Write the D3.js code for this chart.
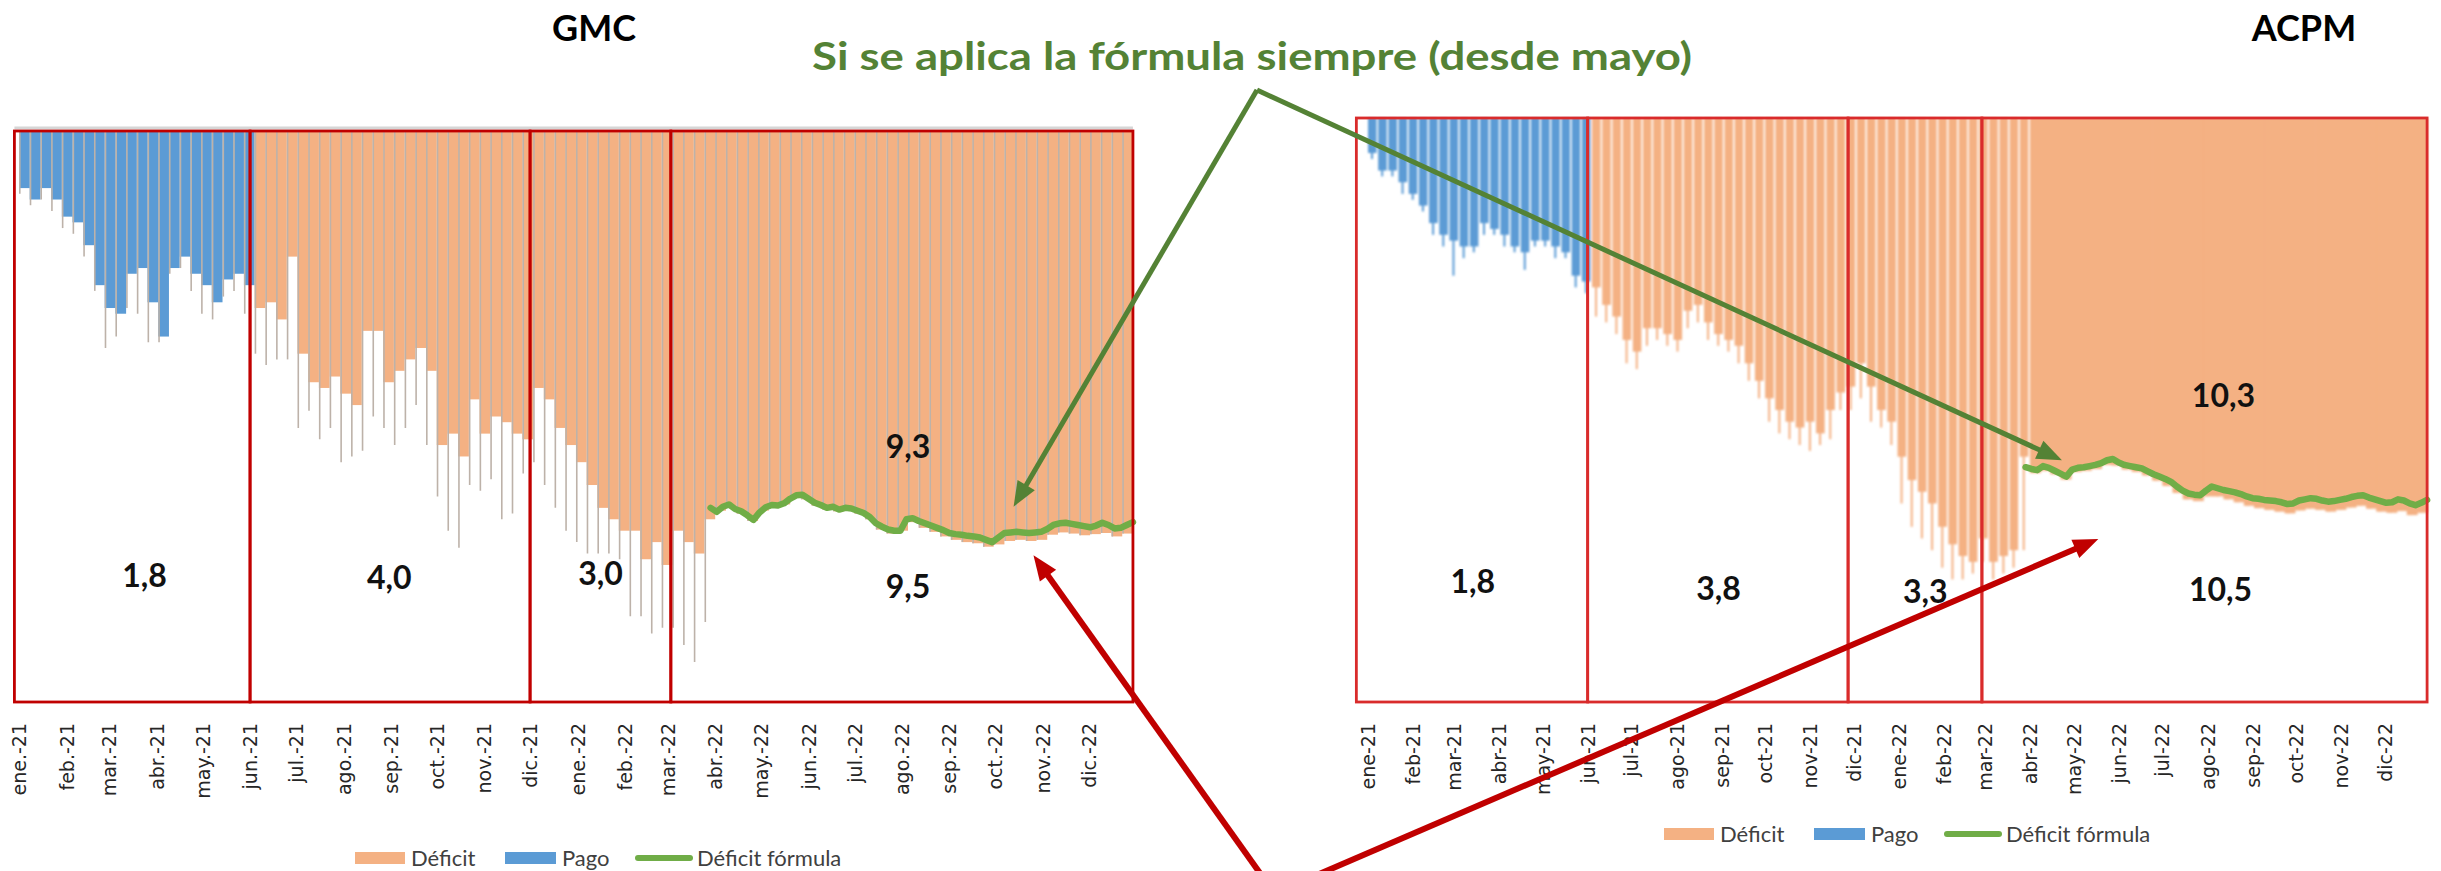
<!DOCTYPE html>
<html>
<head>
<meta charset="utf-8">
<script src="https://cdn.jsdelivr.net/npm/d3@7"></script>
<style>
	body { margin: 0; background: #fff; }
	svg { display: block; }
</style>
</head>
<body>
<svg id="chart" width="2441" height="871"></svg>
<script>

// Semanas desde el 1 de enero de 2021 (profundidad del déficit, 0 = arriba, 100 = fondo)
var pagoGMC = [10,12,10,12,15,16,20,27,31,32,25,24,30,36,24,22,25,27,30,26,25,27];
var pagoPicoGMC = [11,13,12,14,17,18,22,28,38,36,31,32,37,37,25,24,28,32,33,29,28,32];
var deficitGMC = [31,30,33,22,39,44,45,43,46,48,35,35,44,42,40,38,42,55,53,57,47,53,50,51,53,54,
	45,47,52,55,58,62,66,68,70,70,75,72,76,70,72,74,68,
	66.5,66.0,67.0,68.3,66.5,65.8,65.4,64.2,64.5,65.6,66.3,66.6,66.4,67.0,68.0,69.8,70.5,70.0,68.5,69.5,
	70.2,71.0,71.6,72.0,72.2,72.8,72.4,71.8,71.6,71.8,71.6,70.7,70.3,70.5,70.8,70.6,70.4,71.0,70.5];
var deficitPicoGMC = [39,41,40,40,52,49,54,52,58,57,56,50,52,55,52,48,55,64,70,73,62,63,61,68,67,60,
	58,62,66,70,72,74,74,74,75,85,85,88,87,87,90,93,86];

var pagoACPM = [6,9,9,11,13,15,18,20,21,22,22,18,19,20,22,23,21,21,22,23,27,28];
var pagoPicoACPM = [7,10,10,13,14,16,20,22,27,24,23,20,20,22,23,26,22,22,24,24,29,30];
var deficitACPM = [29,32,34,38,40,36,36,37,38,33,32,35,37,38,39,42,45,48,50,52,53,52,54,50,47,46,
	42,46,50,52,58,62,64,66,70,73,75,76,72,76,75,74,58,
	60.8,60.4,61.0,61.9,60.6,60.4,60.1,59.4,59.5,60.2,60.6,61.2,62.1,63.0,64.2,65.3,65.6,64.8,64.8,65.3,
	65.8,66.4,66.8,67.1,67.4,67.7,67.2,66.9,67.1,67.4,67.1,66.7,66.4,66.9,67.4,67.6,67.3,68.0,67.6];
var deficitPicoACPM = [34,35,37,42,43,39,38,39,40,36,35,38,39,40,42,45,48,52,54,55,56,57,56,55,50,50,
	48,52,53,56,66,70,72,74,77,79,79,78,76,79,78,77,74];

// Déficit fórmula: cada 4 días desde el 29 de marzo de 2022
var formulaGMC = [66.0,66.7,65.8,65.4,66.2,66.6,67.3,68.1,66.8,65.9,65.5,65.6,65.2,64.4,63.8,63.7,64.4,65.1,65.5,66.0,
	65.8,66.3,66.0,66.1,66.5,66.9,67.6,68.7,69.3,69.8,70.0,70.0,68.0,67.8,68.3,68.7,69.1,69.5,69.9,70.4,
	70.6,70.7,70.9,71.0,71.2,71.6,72.0,71.2,70.4,70.3,70.2,70.3,70.4,70.3,70.2,69.7,69.0,68.7,68.6,68.8,
	69.0,69.2,69.4,69.1,68.6,69.0,69.6,69.5,69.0,68.5];
var formulaACPM = [59.8,60.1,60.3,59.6,59.9,60.4,60.9,61.4,60.2,59.9,59.8,59.6,59.4,59.1,58.6,58.4,59.0,59.4,59.6,59.8,
	60.0,60.5,61.0,61.4,61.8,62.3,63.1,63.8,64.3,64.5,64.6,63.8,63.1,63.4,63.7,63.9,64.1,64.4,64.8,65.1,
	65.2,65.4,65.5,65.6,65.8,66.1,66.0,65.5,65.3,65.1,65.2,65.5,65.7,65.6,65.4,65.2,64.9,64.7,64.6,65.0,
	65.3,65.6,65.9,65.8,65.3,65.5,66.0,66.3,65.9,65.4];

var ticksGMC = ["ene.-21","feb.-21","mar.-21","abr.-21","may.-21","jun.-21","jul.-21","ago.-21","sep.-21","oct.-21","nov.-21","dic.-21",
	"ene.-22","feb.-22","mar.-22","abr.-22","may.-22","jun.-22","jul.-22","ago.-22","sep.-22","oct.-22","nov.-22","dic.-22"];
var ticksACPM = ["ene-21","feb-21","mar-21","abr-21","may-21","jun-21","jul-21","ago-21","sep-21","oct-21","nov-21","dic-21",
	"ene-22","feb-22","mar-22","abr-22","may-22","jun-22","jul-22","ago-22","sep-22","oct-22","nov-22","dic-22"];

// Periodos (recuadros rojos) y sus cifras
var cajasGMC = ["2020-12-29","2021-06-01","2021-12-01","2022-03-03","2022-12-30"];
var cajasACPM = ["2020-12-24","2021-06-01","2021-11-27","2022-02-27","2022-12-30"];
var cifrasGMC = ["1,8","4,0","3,0","9,3","9,5"];
var cifrasACPM = ["1,8","3,8","3,3","10,3","10,5"];

var series = ["Déficit", "Pago", "Déficit fórmula"];

var C = {def: "#f4b183", pago: "#5b9bd5", formula: "#70ad47", flechaV: "#548235", flechaR: "#c00000"};

var parse = d3.utcParse("%Y-%m-%d");
var inicio = Date.UTC(2021, 0, 1), inicioFormula = Date.UTC(2022, 2, 29), DIA = 864e5;
function semana(i) { return new Date(inicio + i * 7 * DIA); }

var svg = d3.select("#chart");
svg.append("defs").append("filter")
	.attr("id", "suave")
	.append("feGaussianBlur")
	.attr("stdDeviation", 0.9);

var paneles = [
	{titulo: "GMC", tx: 594, xr: [19, 1136], yr: [131, 702], pago: pagoGMC, pagoPico: pagoPicoGMC,
		deficit: deficitGMC, deficitPico: deficitPicoGMC, formula: formulaGMC, ticks: ticksGMC,
		cajas: cajasGMC, colorCaja: "#c00000", suave: false, cifras: cifrasGMC,
		pos: [["2021-03-24", 79.9], ["2021-08-31", 80.2], ["2022-01-16", 79.5], ["2022-08-05", 57.3], ["2022-08-05", 81.8]],
		leyenda: [355, 858]},
	{titulo: "ACPM", tx: 2304, xr: [1368, 2430], yr: [118, 702], pago: pagoACPM, pagoPico: pagoPicoACPM,
		deficit: deficitACPM, deficitPico: deficitPicoACPM, formula: formulaACPM, ticks: ticksACPM,
		cajas: cajasACPM, colorCaja: "#d92b2b", suave: true, cifras: cifrasACPM,
		pos: [["2021-03-14", 81.3], ["2021-08-30", 82.5], ["2022-01-19", 83.0], ["2022-08-12", 49.5], ["2022-08-10", 82.7]],
		leyenda: [1664, 834]}
];

var escalas = paneles.map(dibujarPanel);

// Flechas de anotación
var xg = escalas[0].x, yg = escalas[0].y, xa = escalas[1].x, ya = escalas[1].y;
var capa = svg.append("g");
flecha(capa, [1257, 90], [xg(parse("2022-10-13")), yg(65.8)], C.flechaV, 5);
flecha(capa, [1257, 90], [xa(parse("2022-04-23")), ya(58.6)], C.flechaV, 5);
flecha(capa, [1272, 890], [xg(parse("2022-10-26")), yg(74.3)], C.flechaR, 6);
flecha(capa, [1282, 890], [xa(parse("2022-05-18")), ya(72.1)], C.flechaR, 6);

svg.append("text")
	.attr("x", 812)
	.attr("y", 70)
	.attr("textLength", 880)
	.attr("lengthAdjust", "spacingAndGlyphs")
	.style("font", "bold 39px Lato, sans-serif")
	.attr("fill", C.flechaV)
	.text("Si se aplica la fórmula siempre (desde mayo)");


function dibujarPanel(p) {
	var x = d3.scaleUtc().domain([new Date(inicio), new Date(Date.UTC(2023, 0, 1))]).range(p.xr),
		y = d3.scaleLinear().domain([0, 100]).range(p.yr);

	var filas = p.pago.map(function(v, i) { return {i: i, v: v, s: p.pagoPico[i], tipo: "pago"}; })
		.concat(p.deficit.map(function(v, j) { return {i: j + p.pago.length, v: v, s: p.deficitPico[j], tipo: "def"}; }));

	var g = svg.append("g");
	if (p.suave)
		g.attr("filter", "url(#suave)");

	if (!p.suave)
		g.append("line")
			.attr("x1", x(parse(p.cajas[0]))).attr("x2", x(parse(p.cajas[4])))
			.attr("y1", y(0) - 3).attr("y2", y(0) - 3)
			.attr("stroke", "#d6d6d6").attr("stroke-width", 3);

	// Barras semanales
	g.selectAll("rect.barra")
		.data(filas)
		.enter().append("rect")
		.attr("class", "barra")
		.attr("x", function(d) { return x(semana(d.i)); })
		.attr("y", y(0))
		.attr("width", function(d) {
			var w = x(semana(d.i + 1)) - x(semana(d.i));
			if (p.suave)
				return semana(d.i) >= inicioFormula ? w + 0.8 : w - 1.6;
			return w;
		})
		.attr("height", function(d) { return y(d.v) - y(0); })
		.attr("fill", function(d) { return d.tipo === "pago" ? C.pago : C.def; });

	// Bordes y picos diarios
	g.selectAll("line.pico")
		.data(filas)
		.enter().append("line")
		.attr("class", "pico")
		.attr("x1", function(d) { return p.suave ? x(semana(d.i)) + 4 : x(semana(d.i)) + 0.8; })
		.attr("x2", function(d) { return p.suave ? x(semana(d.i)) + 4 : x(semana(d.i)) + 0.8; })
		.attr("y1", function(d) { return p.suave ? y(d.v) - 2 : y(0); })
		.attr("y2", function(d) { return y(d.s === undefined ? d.v : d.s); })
		.attr("stroke", function(d) {
			if (!p.suave) return "#bdb2a9";
			return d.tipo === "pago" ? C.pago : C.def;
		})
		.attr("stroke-width", p.suave ? 2 : 1.6);

	// Déficit fórmula
	var linea = d3.line()
		.x(function(d, i) { return x(new Date(inicioFormula + i * 4 * DIA)); })
		.y(function(d) { return y(d); })
		.curve(d3.curveLinear);

	svg.append("path")
		.attr("d", linea(p.formula))
		.attr("fill", "none")
		.attr("stroke", C.formula)
		.attr("stroke-width", 6.5)
		.attr("stroke-linejoin", "round")
		.attr("stroke-linecap", "round");

	// Recuadros
	svg.append("g").selectAll("rect")
		.data(d3.pairs(p.cajas))
		.enter().append("rect")
		.attr("x", function(d) { return x(parse(d[0])); })
		.attr("y", y(0))
		.attr("width", function(d) { return x(parse(d[1])) - x(parse(d[0])); })
		.attr("height", y(100) - y(0))
		.attr("fill", "none")
		.attr("stroke", p.colorCaja)
		.attr("stroke-width", 2.8);

	// Cifras
	svg.append("g").selectAll("text")
		.data(p.cifras)
		.enter().append("text")
		.attr("x", function(d, i) { return x(parse(p.pos[i][0])); })
		.attr("y", function(d, i) { return y(p.pos[i][1]); })
		.attr("text-anchor", "middle")
		.style("font", "bold 32px Lato, sans-serif")
		.attr("fill", "#111")
		.text(function(d) { return d; });

	// Título
	svg.append("text")
		.attr("x", p.tx)
		.attr("y", 41)
		.attr("text-anchor", "middle")
		.style("font", "bold 36px Lato, sans-serif")
		.text(p.titulo);

	// Eje de meses
	var eje = d3.axisBottom(x)
		.tickValues(d3.utcMonth.range(new Date(inicio), new Date(Date.UTC(2023, 0, 1))))
		.tickSize(0)
		.tickFormat(function(d, i) { return p.ticks[i]; });

	var ge = svg.append("g")
		.attr("transform", "translate(0,723)")
		.call(eje);
	ge.select(".domain").remove();
	ge.selectAll("text")
		.attr("x", 0)
		.attr("y", 0)
		.attr("dy", "0.35em")
		.attr("transform", "rotate(-90)")
		.attr("text-anchor", "end")
		.attr("fill", "#262626")
		.style("font", "19px 'DejaVu Sans', sans-serif");

	// Leyenda
	var lx = p.leyenda[0], ly = p.leyenda[1];
	var ley = svg.append("g").style("font", "22px Lato, sans-serif").attr("fill", "#404040");
	ley.append("rect").attr("x", lx).attr("y", ly - 6).attr("width", 50).attr("height", 12).attr("fill", C.def);
	ley.append("text").attr("x", lx + 56).attr("y", ly + 8).text(series[0]);
	ley.append("rect").attr("x", lx + 150).attr("y", ly - 6).attr("width", 51).attr("height", 12).attr("fill", C.pago);
	ley.append("text").attr("x", lx + 207).attr("y", ly + 8).text(series[1]);
	ley.append("line").attr("x1", lx + 283).attr("x2", lx + 335).attr("y1", ly).attr("y2", ly)
		.attr("stroke", C.formula).attr("stroke-width", 6).attr("stroke-linecap", "round");
	ley.append("text").attr("x", lx + 342).attr("y", ly + 8).text(series[2]);

	return {x: x, y: y};
}

function flecha(g, de, a, color, ancho) {
	var dx = a[0] - de[0], dy = a[1] - de[1], L = Math.hypot(dx, dy),
		ux = dx / L, uy = dy / L, hl = 25, hw = 20,
		bx = a[0] - ux * hl, by = a[1] - uy * hl;
	g.append("line")
		.attr("x1", de[0]).attr("y1", de[1])
		.attr("x2", bx + ux * 3).attr("y2", by + uy * 3)
		.attr("stroke", color)
		.attr("stroke-width", ancho);
	g.append("path")
		.attr("d", "M" + a[0] + "," + a[1] + "L" + (bx - uy * hw / 2) + "," + (by + ux * hw / 2) +
			"L" + (bx + uy * hw / 2) + "," + (by - ux * hw / 2) + "Z")
		.attr("fill", color);
}

</script>
</body>
</html>
